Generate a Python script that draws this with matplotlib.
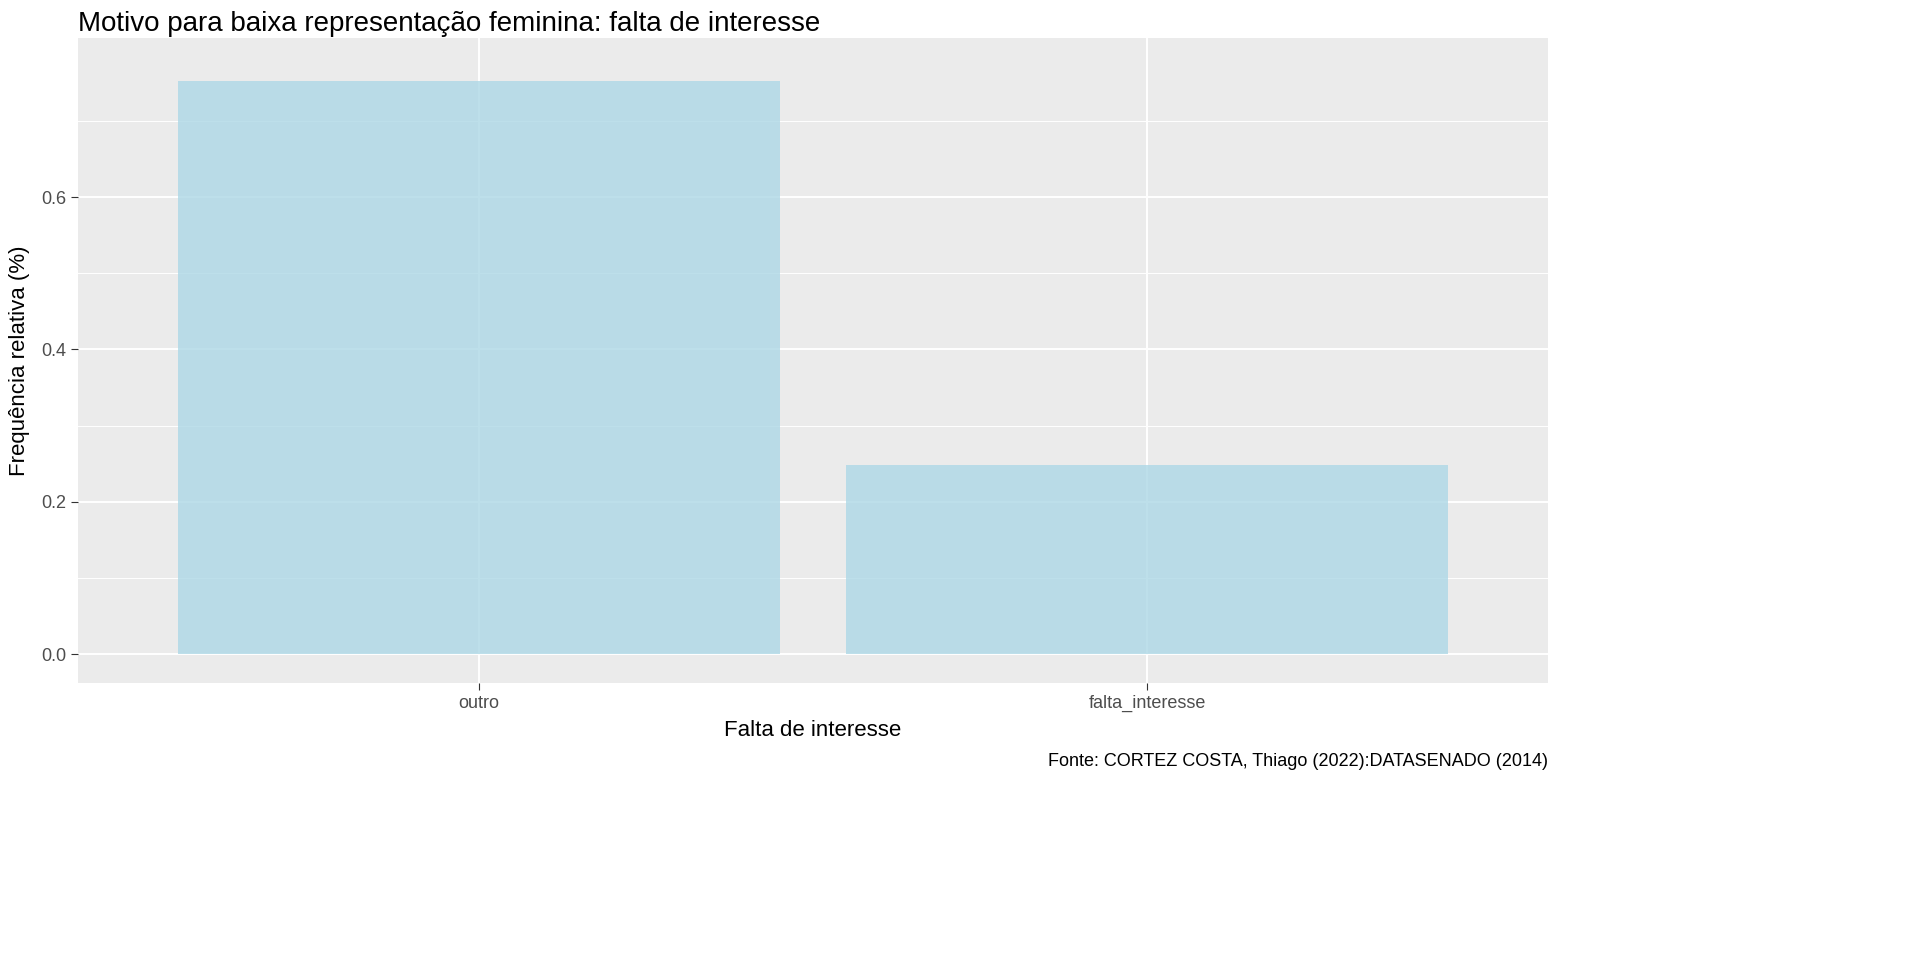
import matplotlib
matplotlib.use("Agg")
import matplotlib.pyplot as plt
plt.rcParams['font.family'] = ['Liberation Sans', 'DejaVu Sans']

categories = ["outro", "falta_interesse"]
values = [0.752, 0.248]

fig = plt.figure(figsize=(19.2, 9.6), dpi=100)
ax = fig.add_axes([78/1920, 1-683/960, (1548-78)/1920, (683-38)/960])
ax.set_facecolor("#EBEBEB")
x = [1, 2]
ax.bar(x, values, width=0.9, color="#ADD8E6", alpha=0.8, zorder=3)
ax.set_xlim(0.4, 2.6)
ax.set_ylim(-0.038, 0.809)
ax.set_yticks([0, 0.2, 0.4, 0.6])
ax.set_yticklabels(["0.0", "0.2", "0.4", "0.6"])
ax.set_yticks([0.1, 0.3, 0.5, 0.7], minor=True)
ax.set_xticks(x)
ax.set_xticklabels(categories)
ax.grid(which="major", color="white", linewidth=1.4, zorder=0)
ax.grid(which="minor", axis="y", color="white", linewidth=0.7, zorder=0)
for s in ax.spines.values():
    s.set_visible(False)
ax.tick_params(which="both", length=5, color="#333333", labelsize=13, labelcolor="#4D4D4D")
ax.tick_params(which="minor", length=0)
ax.set_xlabel("Falta de interesse", fontsize=16, labelpad=6)
ax.set_ylabel("Frequência relativa (%)", fontsize=16, labelpad=8)
fig.text(78/1920, 1-24/960, "Motivo para baixa representação feminina: falta de interesse",
         fontsize=20, va="center", ha="left")
fig.text(1548/1920, 1-762/960, "Fonte: CORTEZ COSTA, Thiago (2022):DATASENADO (2014)",
         fontsize=13, va="center", ha="right")
fig.savefig("out.png", dpi=100)
